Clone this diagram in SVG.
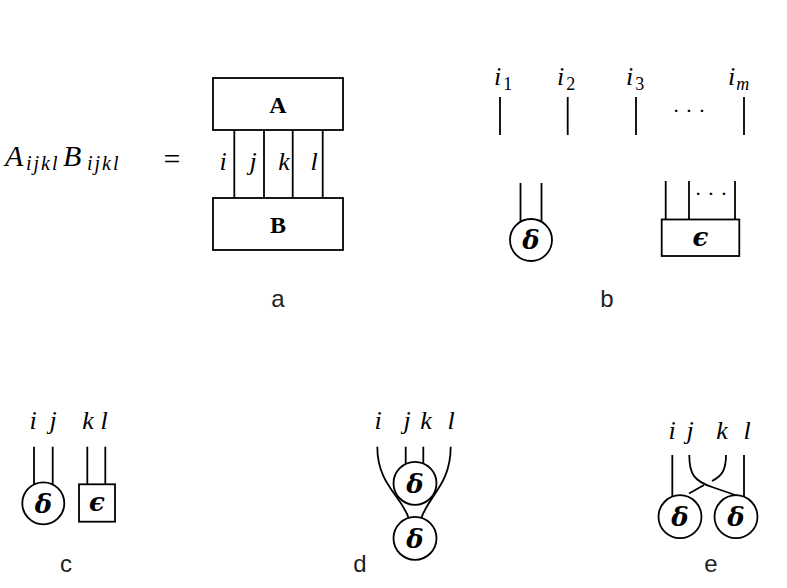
<svg xmlns="http://www.w3.org/2000/svg" width="787" height="588" viewBox="0 0 787 588">
<style>
.ln{stroke:#000;stroke-width:1.8;fill:none}
.bx{stroke:#000;stroke-width:1.8;fill:#fff}
.m{font-family:"Liberation Serif","DejaVu Serif",serif;font-style:italic;font-size:26px;fill:#000;text-anchor:middle}
.ms{font-family:"Liberation Serif","DejaVu Serif",serif;font-style:italic;font-size:26px;fill:#000}
.sub{font-size:18px}
.eqb{font-family:"Liberation Serif","DejaVu Serif",serif;font-style:italic;font-size:30px;fill:#000}
.eqs{font-family:"Liberation Serif","DejaVu Serif",serif;font-style:italic;font-size:20px;letter-spacing:2px;fill:#000}
.bd{font-family:"Liberation Serif","DejaVu Serif",serif;font-weight:bold;font-size:24px;fill:#000;text-anchor:middle}
.gr{font-family:"DejaVu Serif","Liberation Serif",serif;font-weight:bold;font-style:italic;font-size:26px;fill:#000;text-anchor:middle}
.cap{font-family:"Liberation Sans",Arial,sans-serif;font-size:24px;fill:#222;text-anchor:middle}
.dots{font-family:"Liberation Serif",serif;font-size:22px;fill:#000;text-anchor:middle}
</style>
<rect width="787" height="588" fill="#fff"/>

<!-- panel a -->
<g id="eq">
<text class="eqb" x="5" y="166">A</text>
<text class="eqs" x="26" y="170">ijkl</text>
<text class="eqb" x="63" y="166">B</text>
<text class="eqs" x="87" y="170">ijkl</text>
<text x="172" y="169" font-family="Liberation Serif,serif" font-size="30" text-anchor="middle">=</text>
</g>
<g id="nodeA"><rect class="bx" x="213" y="78" width="130" height="52"/><text class="bd" x="278" y="113">A</text></g>
<g id="nodeB"><rect class="bx" x="213" y="198" width="130" height="52"/><text class="bd" x="278" y="233">B</text></g>
<g id="conn-a">
<line class="ln" x1="234.3" y1="130" x2="234.3" y2="198"/>
<line class="ln" x1="264" y1="130" x2="264" y2="198"/>
<line class="ln" x1="292.7" y1="130" x2="292.7" y2="198"/>
<line class="ln" x1="322.7" y1="130" x2="322.7" y2="198"/>
</g>
<g id="labels-a">
<text class="m" x="223" y="170">i</text>
<text class="m" x="253" y="170">j</text>
<text class="m" x="284" y="170">k</text>
<text class="m" x="314" y="170">l</text>
</g>
<text class="cap" x="278" y="307">a</text>

<!-- panel b -->
<g id="labels-b">
<text class="ms" x="494" y="85">i<tspan class="sub" font-style="normal" dx="2" dy="5">1</tspan></text>
<text class="ms" x="557" y="85">i<tspan class="sub" font-style="normal" dx="2" dy="5">2</tspan></text>
<text class="ms" x="626" y="85">i<tspan class="sub" font-style="normal" dx="2" dy="5">3</tspan></text>
<text class="ms" x="728" y="85">i<tspan class="sub" dx="1" dy="5">m</tspan></text>
</g>
<g id="conn-b">
<line class="ln" x1="500" y1="97" x2="500" y2="135"/>
<line class="ln" x1="567.7" y1="97" x2="567.7" y2="135"/>
<line class="ln" x1="636" y1="97" x2="636" y2="135"/>
<line class="ln" x1="744" y1="97" x2="744" y2="135"/>
<line class="ln" x1="520.5" y1="183" x2="520.5" y2="224"/>
<line class="ln" x1="541.5" y1="183" x2="541.5" y2="224"/>
<line class="ln" x1="665.7" y1="181" x2="665.7" y2="220"/>
<line class="ln" x1="689" y1="181" x2="689" y2="220"/>
<line class="ln" x1="735" y1="181" x2="735" y2="220"/>
</g>
<text class="dots" x="689" y="118">· · ·</text>
<text class="dots" x="711" y="201">· · ·</text>
<g id="delta-b"><circle class="bx" cx="531" cy="240" r="21"/><text class="gr" x="531" y="249">δ</text></g>
<g id="eps-b"><rect class="bx" x="661.7" y="219.5" width="77.6" height="36.5"/><text class="gr" x="700.5" y="246">ϵ</text></g>
<text class="cap" x="607" y="307">b</text>

<!-- panel c -->
<g id="labels-c">
<text class="m" x="33" y="429">i</text>
<text class="m" x="53" y="429">j</text>
<text class="m" x="88" y="429">k</text>
<text class="m" x="104" y="429">l</text>
</g>
<g id="conn-c">
<line class="ln" x1="34" y1="446.7" x2="34" y2="486"/>
<line class="ln" x1="52.7" y1="446.7" x2="52.7" y2="486"/>
<line class="ln" x1="87.3" y1="446.7" x2="87.3" y2="484.3"/>
<line class="ln" x1="105.3" y1="446.7" x2="105.3" y2="484.3"/>
</g>
<g id="delta-c"><circle class="bx" cx="43.3" cy="503.3" r="21"/><text class="gr" x="43.3" y="512.5">δ</text></g>
<g id="eps-c"><rect class="bx" x="79" y="484.3" width="36" height="37.4"/><text class="gr" x="97" y="511">ϵ</text></g>
<text class="cap" x="66" y="572">c</text>

<!-- panel d -->
<g id="labels-d">
<text class="m" x="378" y="429">i</text>
<text class="m" x="407" y="429">j</text>
<text class="m" x="426" y="429">k</text>
<text class="m" x="451" y="429">l</text>
</g>
<g id="conn-d">
<path class="ln" d="M377.3,446.7 C377.3,485 402,496 409,519"/>
<path class="ln" d="M450.7,446.7 C450.7,485 428,496 421,519"/>
<line class="ln" x1="405.7" y1="446.7" x2="405.7" y2="464"/>
<line class="ln" x1="423.3" y1="446.7" x2="423.3" y2="464"/>
</g>
<g id="delta-d1"><circle class="bx" cx="415" cy="483.3" r="21.5"/><text class="gr" x="415" y="492.5">δ</text></g>
<g id="delta-d2"><circle class="bx" cx="415" cy="538.3" r="21.5"/><text class="gr" x="415" y="547.5">δ</text></g>
<text class="cap" x="360" y="572">d</text>

<!-- panel e -->
<g id="labels-e">
<text class="m" x="672" y="439">i</text>
<text class="m" x="690" y="439">j</text>
<text class="m" x="722" y="439">k</text>
<text class="m" x="747" y="439">l</text>
</g>
<g id="conn-e">
<line class="ln" x1="672.3" y1="455" x2="672.3" y2="496"/>
<line class="ln" x1="744" y1="455" x2="744" y2="496"/>
<path class="ln" d="M689.3,455 C689.3,474 694,481 712,487 L738,496"/>
<path class="ln" d="M726,455 C726,470 722,476 712,481"/>
<line class="ln" x1="704" y1="485" x2="689" y2="493.5"/>
</g>
<g id="delta-e1"><circle class="bx" cx="680" cy="516.7" r="21.5"/><text class="gr" x="680" y="526">δ</text></g>
<g id="delta-e2"><circle class="bx" cx="736" cy="516.7" r="21.5"/><text class="gr" x="736" y="526">δ</text></g>
<text class="cap" x="711" y="572">e</text>
</svg>
